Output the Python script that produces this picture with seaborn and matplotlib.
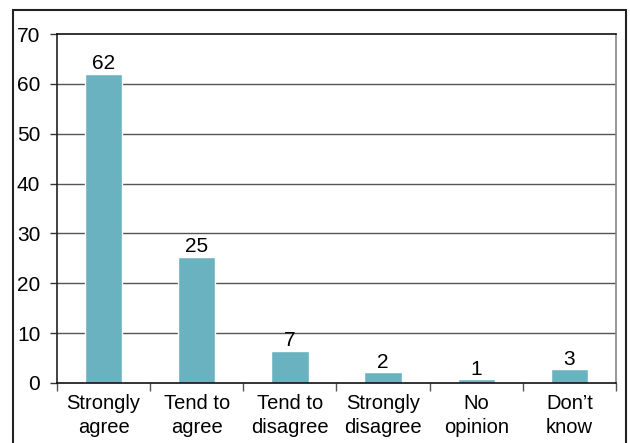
import matplotlib
matplotlib.use('Agg')
import matplotlib.pyplot as plt
import seaborn as sns
import numpy as np
import pandas as pd
from matplotlib.patches import Rectangle

# Data
categories = ['Strongly\nagree', 'Tend to\nagree', 'Tend to\ndisagree',
              'Strongly\ndisagree', 'No\nopinion', 'Don\u2019t\nknow']
bar_heights = [62, 25.3, 6.5, 2.2, 0.8, 2.8]
bar_labels = ['62', '25', '7', '2', '1', '3']
yticks = [0, 10, 20, 30, 40, 50, 60, 70]

sns.set_style('white')
plt.rcParams['font.family'] = ['Liberation Sans', 'DejaVu Sans']

df = pd.DataFrame({'cat': categories, 'val': bar_heights})

fig = plt.figure(figsize=(6.3, 4.43), dpi=100)
ax = fig.add_axes([57 / 630, 1 - 383 / 443, (616 - 57) / 630, (383 - 34) / 443])

sns.barplot(data=df, x='cat', y='val', color='#6AB2BF', saturation=1,
            width=0.4, ax=ax)

ax.set_ylim(0, 70)
ax.set_xlim(-0.5, len(categories) - 0.5)
ax.set_yticks(yticks)
ax.set_yticklabels([str(t) for t in yticks], fontsize=15, color='black')
ax.set_xlabel('')
ax.set_ylabel('')
ax.tick_params(axis='x', which='major', bottom=False, length=0,
               labelsize=14.5, labelcolor='black', pad=8)
ax.set_xticks(np.arange(-0.5, len(categories)), minor=True)
ax.tick_params(axis='x', which='minor', bottom=True, length=6, width=1,
               color='#555555', direction='out')
ax.tick_params(axis='y', which='major', left=True, length=5, width=1,
               color='#333333', direction='out', pad=7)
for lbl in ax.get_xticklabels():
    lbl.set_linespacing(1.35)

for t in yticks[1:-1]:
    ax.axhline(t, color='#555555', lw=1, zorder=0)

for i, (h, lab) in enumerate(zip(bar_heights, bar_labels)):
    ax.text(i, h + 0.1, lab, ha='center', va='bottom', fontsize=15,
            color='black')

ax.spines['left'].set_color('#222222')
ax.spines['bottom'].set_color('#111111')
ax.spines['top'].set_color('#111111')
ax.spines['right'].set_color('#888888')
for s in ax.spines.values():
    s.set_linewidth(1.2)

# outer frame around the figure
frame = Rectangle((13 / 630, -0.02), (626 - 13) / 630, 1 - 10 / 443 + 0.02,
                  transform=fig.transFigure, fill=False, edgecolor='#222222',
                  lw=1.5, clip_on=False)
fig.patches.append(frame)

fig.savefig('out.png', dpi=100)
